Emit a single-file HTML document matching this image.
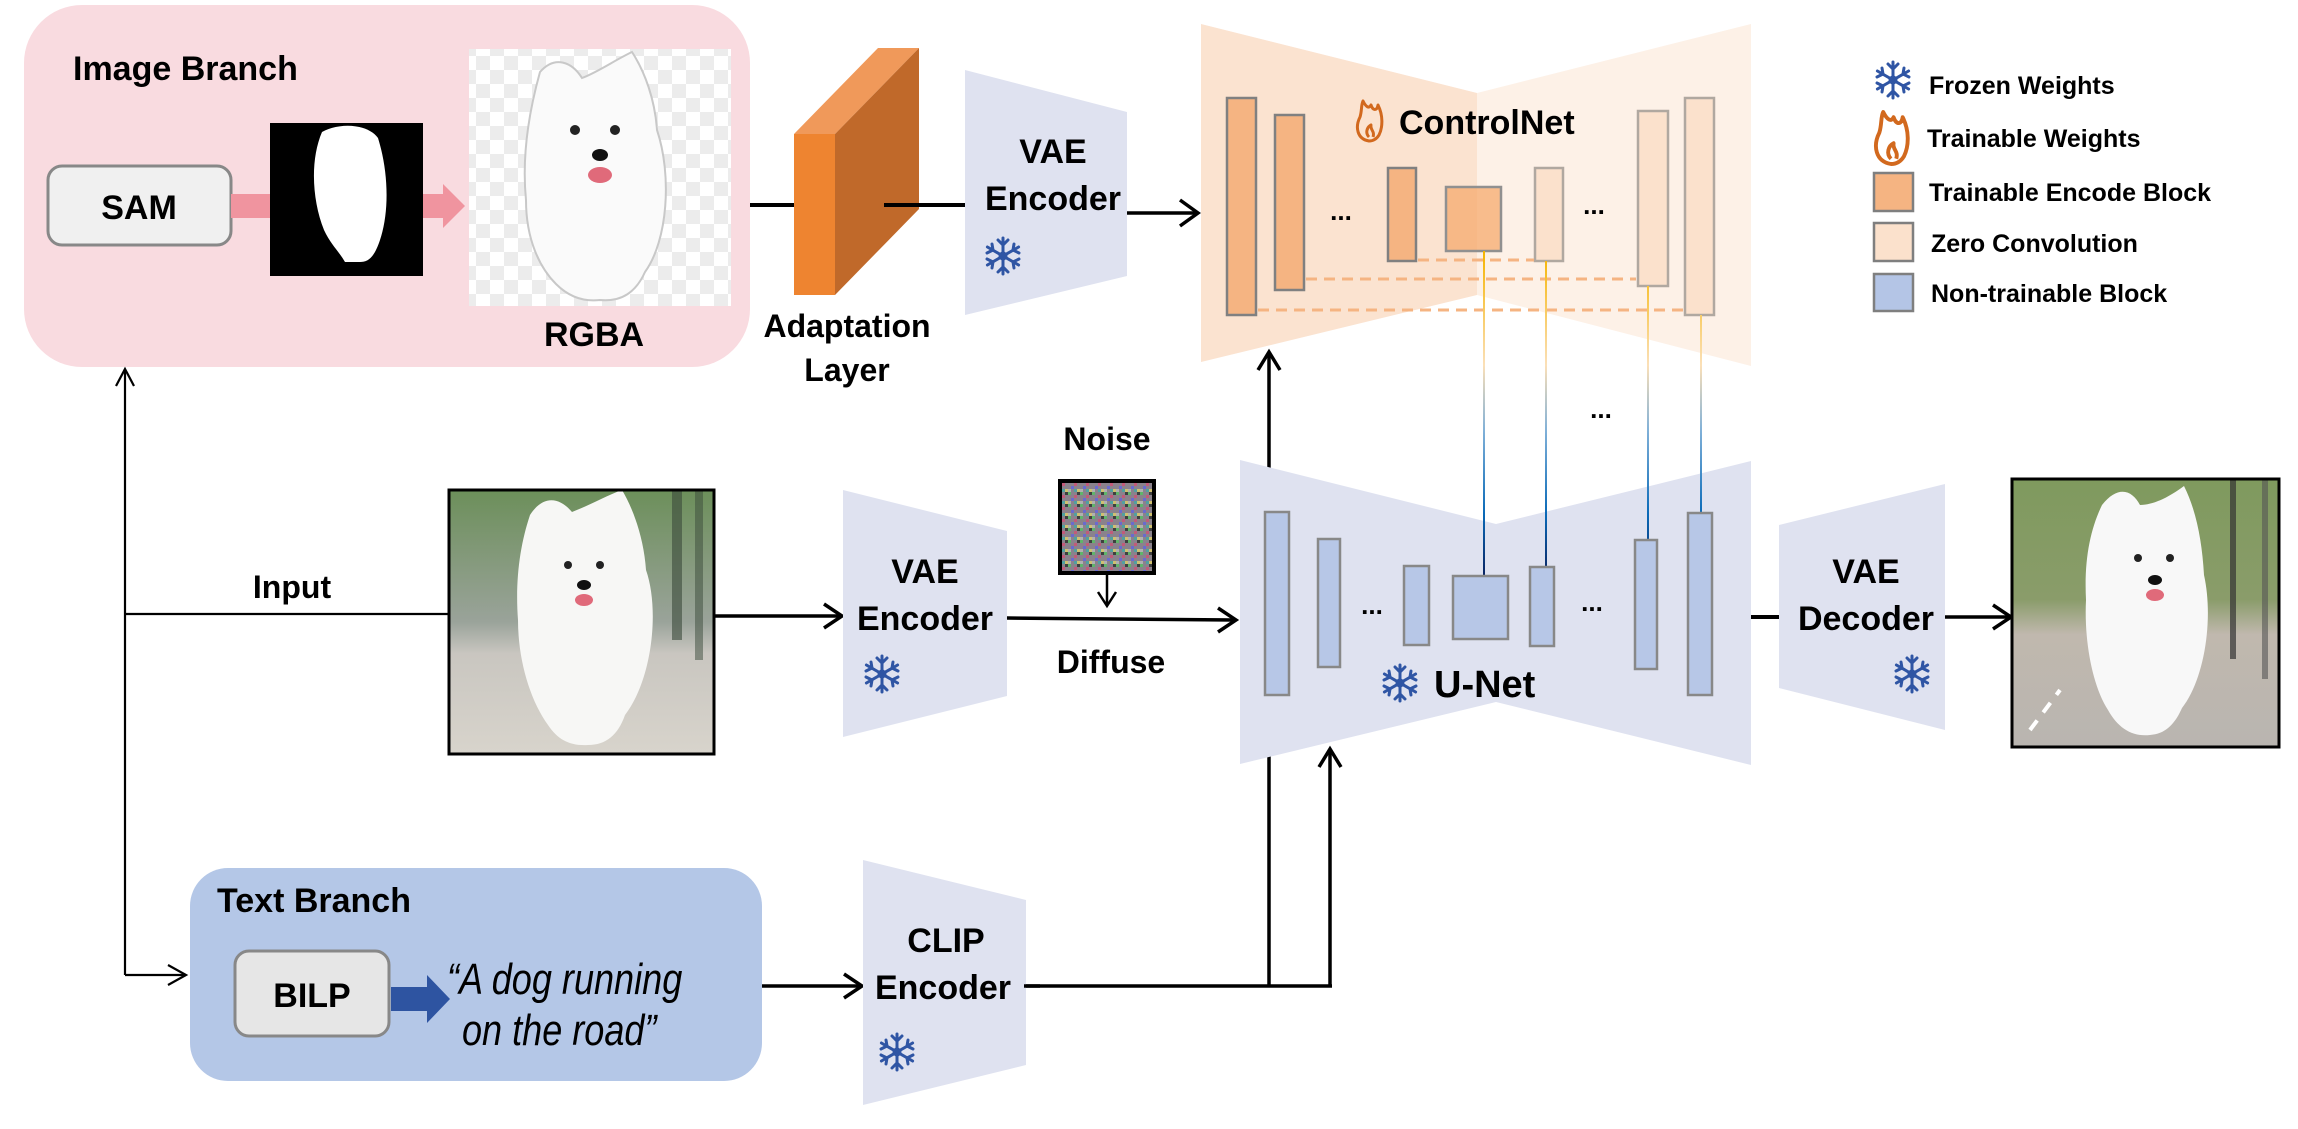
<!DOCTYPE html>
<html><head><meta charset="utf-8">
<style>
html,body{margin:0;padding:0;background:#fff;}
svg{display:block;}
text{font-family:"Liberation Sans",sans-serif;font-weight:bold;fill:#000;}
</style></head>
<body>
<svg width="2298" height="1129" viewBox="0 0 2298 1129" xmlns="http://www.w3.org/2000/svg">
<defs>
  <pattern id="chk" width="28" height="28" patternUnits="userSpaceOnUse">
    <rect width="28" height="28" fill="#fff"/>
    <rect width="14" height="14" fill="#ececec"/>
    <rect x="14" y="14" width="14" height="14" fill="#ececec"/>
  </pattern>
  <pattern id="noise" width="12" height="12" patternUnits="userSpaceOnUse">
    <rect width="12" height="12" fill="#8a828c"/>
    <rect x="0" y="0" width="3" height="3" fill="#5fb56a"/>
    <rect x="6" y="3" width="3" height="3" fill="#c25a7a"/>
    <rect x="3" y="6" width="3" height="3" fill="#6a6ad0"/>
    <rect x="9" y="9" width="3" height="3" fill="#d0c070"/>
    <rect x="9" y="0" width="3" height="3" fill="#404040"/>
    <rect x="0" y="9" width="3" height="3" fill="#b0b0b0"/>
    <rect x="6" y="9" width="3" height="3" fill="#50a0a0"/>
  </pattern>
  <linearGradient id="conn" gradientUnits="userSpaceOnUse" x1="0" y1="250" x2="0" y2="580">
    <stop offset="0" stop-color="#f5b400"/>
    <stop offset="0.35" stop-color="#fbe0b8"/>
    <stop offset="0.55" stop-color="#7fb0d8"/>
    <stop offset="0.8" stop-color="#0a6ab8"/>
    <stop offset="1" stop-color="#0a1f5c"/>
  </linearGradient>
  <linearGradient id="inbg" x1="0" y1="0" x2="0" y2="1">
    <stop offset="0" stop-color="#6c8f5a"/>
    <stop offset="0.5" stop-color="#9aa39a"/>
    <stop offset="0.62" stop-color="#c9c6c0"/>
    <stop offset="1" stop-color="#d8d4cc"/>
  </linearGradient>
  <linearGradient id="outbg" x1="0" y1="0" x2="0" y2="1">
    <stop offset="0" stop-color="#7f9a5e"/>
    <stop offset="0.45" stop-color="#8a9c6a"/>
    <stop offset="0.58" stop-color="#c0b8ae"/>
    <stop offset="1" stop-color="#b9b5b0"/>
  </linearGradient>
  <g id="snow" stroke="#2f55a4" stroke-width="3" fill="none" stroke-linecap="round">
    <line x1="0" y1="-18" x2="0" y2="18"/>
    <line x1="-15.6" y1="-9" x2="15.6" y2="9"/>
    <line x1="-15.6" y1="9" x2="15.6" y2="-9"/>
    <path d="M-5,-16 L0,-11 L5,-16 M-5,16 L0,11 L5,16"/>
    <path d="M-16,-3 L-10,-6 L-11,-12 M16,3 L10,6 L11,12"/>
    <path d="M-16,3 L-10,6 L-11,12 M16,-3 L10,-6 L11,-12"/>
    <circle cx="0" cy="0" r="3" fill="#2f55a4"/>
  </g>
  <g id="flame" stroke="#d2691e" stroke-width="3" fill="none" stroke-linejoin="round">
    <path d="M0,20 C-12,18 -14,6 -9,-4 C-7,-10 -8,-16 -6,-20 C-3,-14 0,-12 2,-16 C4,-10 8,-10 9,-16 C14,-6 14,6 10,14 C7,19 3,20 0,20 Z"/>
    <path d="M0,16 C-4,12 -2,6 2,4 C1,9 6,10 4,16"/>
  </g>
</defs>

<!-- ===== Image Branch ===== -->
<rect x="24" y="5" width="726" height="362" rx="58" fill="#f9dbe0"/>
<text x="73" y="80" font-size="34">Image Branch</text>
<rect x="48" y="166" width="183" height="79" rx="14" fill="#f0f0f0" stroke="#888" stroke-width="3"/>
<text x="139" y="219" font-size="34" text-anchor="middle">SAM</text>
<rect x="231" y="194" width="40" height="24" fill="#f0949f"/>
<rect x="270" y="123" width="153" height="153" fill="#000"/>
<path d="M322,132 C340,122 368,124 378,138 C388,170 390,210 380,240 C374,258 368,262 360,262 L345,262 C338,250 331,245 324,230 C312,200 310,160 322,132 Z" fill="#fff"/>
<rect x="423" y="194" width="20" height="24" fill="#f0949f"/>
<polygon points="443,184 465,206 443,228" fill="#f0949f"/>
<rect x="469" y="49" width="262" height="257" fill="url(#chk)"/>
<path d="M540,72 C555,55 572,62 582,78 C598,72 615,60 632,52 C645,72 655,100 657,130 C672,175 668,240 645,272 C636,292 622,302 600,300 C583,302 568,296 556,284 C540,268 526,240 526,200 C522,160 528,115 540,72 Z" fill="#fafafa" stroke="#c8c8c8" stroke-width="2"/>
<circle cx="575" cy="130" r="5" fill="#222"/><circle cx="615" cy="130" r="5" fill="#222"/>
<ellipse cx="600" cy="155" rx="8" ry="6" fill="#111"/>
<ellipse cx="600" cy="175" rx="12" ry="8" fill="#e06a7a"/>
<text x="594" y="346" font-size="34" text-anchor="middle">RGBA</text>

<line x1="750" y1="205" x2="796" y2="205" stroke="#000" stroke-width="4"/>
<polygon points="794,134 835,134 919,48 878,48" fill="#f0995a"/>
<polygon points="835,134 919,48 919,209 835,295" fill="#c0692a"/>
<rect x="794" y="134" width="41" height="161" fill="#ee8430"/>
<line x1="884" y1="205" x2="965" y2="205" stroke="#000" stroke-width="4"/>
<text x="847" y="337" font-size="32" text-anchor="middle">Adaptation</text>
<text x="847" y="381" font-size="32" text-anchor="middle">Layer</text>

<polygon points="965,70 1127,112 1127,276 965,315" fill="#dfe2f0"/>
<text x="1053" y="163" font-size="34" text-anchor="middle">VAE</text>
<text x="1053" y="210" font-size="34" text-anchor="middle">Encoder</text>
<use href="#snow" x="1003" y="256"/>
<line x1="1127" y1="213" x2="1196" y2="213" stroke="#000" stroke-width="3.5"/>
<polyline points="1180,200 1198,213 1180,226" fill="none" stroke="#000" stroke-width="3.5"/>

<!-- ===== ControlNet ===== -->
<polygon points="1201,24 1477,93 1477,295 1201,362" fill="#fbe3d0"/>
<polygon points="1477,93 1751,24 1751,366 1477,295" fill="#fdf1e7"/>
<rect x="1227" y="98" width="29" height="217" fill="#f5b482" stroke="#808080" stroke-width="2.5"/>
<rect x="1275" y="115" width="29" height="175" fill="#f5b482" stroke="#808080" stroke-width="2.5"/>
<text x="1341" y="220" font-size="26" text-anchor="middle">...</text>
<rect x="1388" y="168" width="28" height="93" fill="#f5b482" stroke="#808080" stroke-width="2.5"/>
<rect x="1446" y="187" width="55" height="64" fill="#f5aa6e" fill-opacity="0.75" stroke="#909090" stroke-width="2.5"/>
<rect x="1535" y="168" width="28" height="93" fill="#fbe1cc" stroke="#b0a8a0" stroke-width="2.5"/>
<text x="1594" y="214" font-size="26" text-anchor="middle" fill="#555">...</text>
<rect x="1638" y="111" width="30" height="175" fill="#fbe1cc" stroke="#b0a8a0" stroke-width="2.5"/>
<rect x="1685" y="98" width="29" height="217" fill="#fbe1cc" stroke="#b0a8a0" stroke-width="2.5"/>
<g stroke="#f5b482" stroke-width="3" stroke-dasharray="11,7">
  <line x1="1418" y1="260" x2="1534" y2="260"/>
  <line x1="1306" y1="279" x2="1636" y2="279"/>
  <line x1="1258" y1="310" x2="1683" y2="310"/>
</g>
<use href="#flame" x="1369" y="121"/>
<text x="1399" y="134" font-size="34">ControlNet</text>

<g stroke="url(#conn)" stroke-width="2">
  <line x1="1484" y1="251" x2="1484" y2="577"/>
  <line x1="1546" y1="261" x2="1546" y2="567"/>
  <line x1="1648" y1="286" x2="1648" y2="540"/>
  <line x1="1701" y1="315" x2="1701" y2="513"/>
</g>
<text x="1601" y="418" font-size="26" text-anchor="middle">...</text>

<!-- Legend -->
<use href="#snow" x="1893" y="80"/>
<text x="1929" y="94" font-size="25">Frozen Weights</text>
<g transform="translate(1891,138) scale(1.3)"><use href="#flame"/></g>
<text x="1927" y="147" font-size="25">Trainable Weights</text>
<rect x="1874" y="173" width="39" height="38" fill="#f5b482" stroke="#7f7f7f" stroke-width="2.5"/>
<text x="1929" y="201" font-size="25">Trainable Encode Block</text>
<rect x="1874" y="223" width="39" height="38" fill="#fbe1cc" stroke="#7f7f7f" stroke-width="2.5"/>
<text x="1931" y="252" font-size="25">Zero Convolution</text>
<rect x="1874" y="274" width="39" height="37" fill="#b4c5e6" stroke="#7f7f7f" stroke-width="2.5"/>
<text x="1931" y="302" font-size="25">Non-trainable Block</text>

<!-- ===== left tree ===== -->
<g stroke="#000" stroke-width="2.2" fill="none">
  <line x1="125" y1="370" x2="125" y2="975"/>
  <polyline points="116,386 125,369 134,386"/>
  <line x1="125" y1="614" x2="449" y2="614"/>
  <line x1="125" y1="975" x2="186" y2="975"/>
  <polyline points="168,965 186,975 168,985"/>
</g>
<text x="292" y="598" font-size="32" text-anchor="middle">Input</text>

<rect x="449" y="490" width="265" height="264" fill="url(#inbg)"/>
<rect x="672" y="490" width="10" height="150" fill="#3a4a3a" opacity="0.6"/>
<rect x="695" y="490" width="8" height="170" fill="#3a4a3a" opacity="0.5"/>
<path d="M530,515 C545,492 562,500 572,512 C590,505 608,495 622,490 C634,510 644,540 646,570 C660,610 652,680 625,715 C618,735 606,745 588,745 C570,746 558,740 548,725 C530,700 518,660 518,620 C515,580 520,545 530,515 Z" fill="#f7f7f5"/>
<circle cx="568" cy="565" r="4" fill="#222"/><circle cx="600" cy="565" r="4" fill="#222"/>
<ellipse cx="584" cy="585" rx="7" ry="5" fill="#111"/>
<ellipse cx="584" cy="600" rx="9" ry="6" fill="#e06a7a"/>
<rect x="449" y="490" width="265" height="264" fill="none" stroke="#000" stroke-width="3"/>

<g stroke="#000" stroke-width="3.5" fill="none">
  <line x1="714" y1="616" x2="840" y2="616"/>
  <polyline points="824,604 842,616 824,628"/>
</g>

<polygon points="843,490 1007,531 1007,696 843,737" fill="#dfe2f0"/>
<text x="925" y="583" font-size="34" text-anchor="middle">VAE</text>
<text x="925" y="630" font-size="34" text-anchor="middle">Encoder</text>
<use href="#snow" x="882" y="674"/>

<text x="1107" y="450" font-size="32" text-anchor="middle">Noise</text>
<rect x="1060" y="481" width="94" height="92" fill="url(#noise)" stroke="#000" stroke-width="4"/>
<g stroke="#000" stroke-width="2.5" fill="none">
  <line x1="1107" y1="573" x2="1107" y2="605"/>
  <polyline points="1098,592 1107,606 1116,592"/>
</g>
<g stroke="#000" stroke-width="3.5" fill="none">
  <line x1="1007" y1="618" x2="1234" y2="620"/>
  <polyline points="1218,608 1236,620 1218,632"/>
</g>
<text x="1111" y="673" font-size="32" text-anchor="middle">Diffuse</text>

<g stroke="#000" stroke-width="3.5" fill="none">
  <line x1="1026" y1="986" x2="1332" y2="986"/>
  <line x1="1269" y1="986" x2="1269" y2="353"/>
  <polyline points="1258,370 1269,352 1280,370"/>
  <line x1="1330" y1="986" x2="1330" y2="750"/>
  <polyline points="1319,767 1330,749 1341,767"/>
</g>

<!-- U-Net -->
<polygon points="1240,460 1496,524 1751,461 1751,765 1496,702 1240,764" fill="#dfe2f0"/>
<g stroke="url(#conn)" stroke-width="2">
  <line x1="1484" y1="515" x2="1484" y2="577"/>
  <line x1="1546" y1="510" x2="1546" y2="567"/>
  <line x1="1648" y1="485" x2="1648" y2="540"/>
  <line x1="1701" y1="470" x2="1701" y2="513"/>
</g>
<g fill="#b7c7e7" stroke="#888" stroke-width="2.5">
  <rect x="1265" y="512" width="24" height="183"/>
  <rect x="1318" y="539" width="22" height="128"/>
  <rect x="1404" y="566" width="25" height="79"/>
  <rect x="1453" y="576" width="55" height="63"/>
  <rect x="1530" y="567" width="24" height="79"/>
  <rect x="1635" y="540" width="22" height="129"/>
  <rect x="1688" y="513" width="24" height="182"/>
</g>
<text x="1372" y="614" font-size="26" text-anchor="middle">...</text>
<text x="1592" y="611" font-size="26" text-anchor="middle">...</text>
<use href="#snow" x="1400" y="683"/>
<text x="1434" y="697" font-size="38">U-Net</text>

<line x1="1751" y1="617" x2="1779" y2="617" stroke="#000" stroke-width="4"/>
<polygon points="1779,525 1945,484 1945,730 1779,688" fill="#dfe2f0"/>
<text x="1866" y="583" font-size="34" text-anchor="middle">VAE</text>
<text x="1866" y="630" font-size="34" text-anchor="middle">Decoder</text>
<use href="#snow" x="1912" y="674"/>
<g stroke="#000" stroke-width="3.5" fill="none">
  <line x1="1945" y1="617" x2="2009" y2="617"/>
  <polyline points="1993,605 2011,617 1993,629"/>
</g>

<rect x="2012" y="479" width="267" height="268" fill="url(#outbg)"/>
<rect x="2230" y="479" width="6" height="180" fill="#333" opacity="0.7"/>
<rect x="2262" y="479" width="6" height="200" fill="#555" opacity="0.6"/>
<path d="M2030,730 L2060,690" stroke="#fff" stroke-width="4" stroke-dasharray="12,10"/>
<path d="M2102,505 C2118,485 2132,490 2140,505 C2155,505 2172,495 2184,486 C2196,510 2202,540 2204,575 C2214,620 2204,680 2182,708 C2174,726 2164,734 2150,735 C2132,737 2118,728 2108,710 C2092,685 2084,640 2086,600 C2084,560 2090,530 2102,505 Z" fill="#f8f8f8"/>
<circle cx="2138" cy="558" r="4" fill="#222"/><circle cx="2170" cy="558" r="4" fill="#222"/>
<ellipse cx="2155" cy="580" rx="7" ry="5" fill="#111"/>
<ellipse cx="2155" cy="595" rx="9" ry="6" fill="#e06a7a"/>
<rect x="2012" y="479" width="267" height="268" fill="none" stroke="#000" stroke-width="3"/>

<!-- ===== Text Branch ===== -->
<rect x="190" y="868" width="572" height="213" rx="38" fill="#b4c7e7"/>
<text x="217" y="912" font-size="34">Text Branch</text>
<rect x="235" y="951" width="154" height="85" rx="14" fill="#e6e6e6" stroke="#888" stroke-width="3"/>
<text x="312" y="1007" font-size="34" text-anchor="middle">BILP</text>
<rect x="391" y="987" width="37" height="24" fill="#2e54a1"/>
<polygon points="427,975 450,999 427,1023" fill="#2e54a1"/>
<text x="447" y="994" font-size="44" font-style="italic" transform="translate(447,0) scale(0.82,1) translate(-447,0)" style="font-weight:normal">“A dog running</text>
<text x="462" y="1045" font-size="44" font-style="italic" transform="translate(462,0) scale(0.82,1) translate(-462,0)" style="font-weight:normal">on the road”</text>

<g stroke="#000" stroke-width="3.5" fill="none">
  <line x1="762" y1="986" x2="860" y2="986"/>
  <polyline points="844,974 862,986 844,998"/>
</g>
<polygon points="863,860 1026,900 1026,1065 863,1105" fill="#dfe2f0"/>
<text x="946" y="952" font-size="34" text-anchor="middle">CLIP</text>
<text x="943" y="999" font-size="34" text-anchor="middle">Encoder</text>
<use href="#snow" x="897" y="1052"/>
<line x1="1024" y1="986" x2="1040" y2="986" stroke="#000" stroke-width="3.5"/>
</svg>
</body></html>
